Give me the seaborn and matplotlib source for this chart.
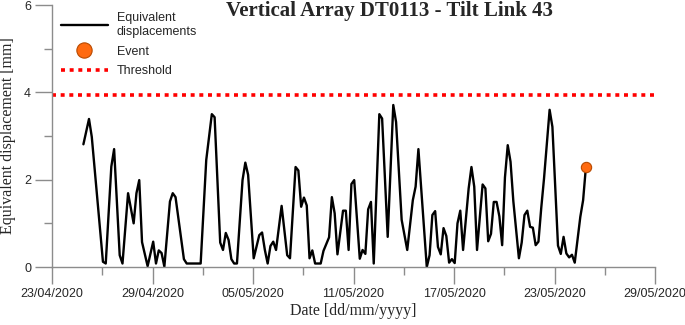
import numpy as np
import pandas as pd
import matplotlib
matplotlib.use("Agg")
import matplotlib.pyplot as plt
import matplotlib.dates as mdates
from matplotlib.lines import Line2D
import seaborn as sns

# hours since 23/04/2020 00:00 and equivalent displacement [mm]
hours = [45, 53, 57, 73, 77, 85, 89, 97, 101, 109, 117, 121, 125, 129, 137, 145,
         149, 153, 157, 161, 169, 173, 177, 189, 193, 213, 221, 229, 233, 241, 245,
         249, 253, 257, 261, 265, 273, 277, 281, 289, 293, 297, 301, 305, 309, 313,
         317, 321, 329, 337, 341, 349, 353, 357, 361, 365, 369, 373, 377, 385, 389,
         397, 401, 405, 409, 417, 421, 425, 429, 433, 441, 445, 449, 453, 457, 461,
         469, 473, 481, 489, 493, 501, 509, 517, 521, 525, 537, 541, 545, 549, 553,
         557, 561, 565, 569, 573, 577, 581, 585, 589, 597, 601, 605, 609, 617, 621,
         625, 629, 633, 637, 641, 645, 649, 653, 657, 661, 669, 673, 677, 681, 685,
         689, 693, 697, 701, 705, 713, 717, 725, 729, 733, 737, 741, 745, 749, 757,
         761, 765]
disp = [2.81, 3.39, 2.98, 0.12, 0.08, 2.30, 2.70, 0.27, 0.08, 1.69, 1.00, 1.69,
        1.99, 0.57, 0.02, 0.58, 0.08, 0.38, 0.32, 0.01, 1.50, 1.69, 1.60, 0.18,
        0.08, 0.08, 2.45, 3.50, 3.43, 0.56, 0.39, 0.78, 0.62, 0.18, 0.08, 0.08,
        1.99, 2.39, 2.11, 0.20, 0.46, 0.73, 0.79, 0.39, 0.08, 0.48, 0.58, 0.39,
        1.40, 0.27, 0.20, 2.29, 2.21, 1.38, 1.59, 1.41, 0.20, 0.38, 0.08, 0.08,
        0.37, 0.68, 1.60, 1.23, 0.29, 1.29, 1.29, 0.39, 1.90, 1.99, 0.19, 0.39,
        0.30, 1.32, 1.49, 0.08, 3.50, 3.40, 0.69, 3.71, 3.32, 1.08, 0.39, 1.53,
        1.84, 2.70, 0.00, 0.27, 1.19, 1.28, 0.46, 0.29, 0.89, 0.71, 0.10, 0.18,
        0.09, 1.00, 1.29, 0.39, 1.80, 2.29, 1.84, 0.39, 1.89, 1.80, 0.59, 0.76,
        1.49, 1.49, 1.16, 0.50, 2.05, 2.79, 2.41, 1.51, 0.20, 0.56, 1.19, 1.29,
        0.92, 0.90, 0.50, 0.58, 1.35, 2.03, 3.60, 3.21, 0.49, 0.30, 0.69, 0.31,
        0.22, 0.28, 0.10, 1.15, 1.53, 2.29]
event_hour = [765]
event_disp = [2.30]
threshold = 3.95

start = pd.Timestamp("2020-04-23")
df = pd.DataFrame({"date": start + pd.to_timedelta(hours, unit="h"), "disp": disp})
ev = pd.DataFrame({"date": start + pd.to_timedelta(event_hour, unit="h"), "disp": event_disp})

sns.set_style("ticks")
plt.rcParams["font.family"] = ["Liberation Sans", "DejaVu Sans"]
serif = ["Liberation Serif", "DejaVu Serif"]

fig = plt.figure(figsize=(6.85, 3.25), dpi=100)
ax = fig.add_axes([52 / 685, 1 - 267 / 325, 603 / 685, 262 / 325])

sns.lineplot(data=df, x="date", y="disp", ax=ax, color="black", linewidth=1.7)
ax.axhline(threshold, color="#ff0000", linewidth=2.6, linestyle=(0, (1.1, 1.3)))
sns.scatterplot(data=ev, x="date", y="disp", ax=ax, s=55, color="#ff6a10",
                edgecolor="#b84a00", linewidth=0.8, zorder=5)

ax.set_xlim(pd.Timestamp("2020-04-23"), pd.Timestamp("2020-05-29"))
ax.set_ylim(0, 6)
ax.set_xticks(pd.date_range("2020-04-23", "2020-05-29", freq="6D"))
ax.set_xticks(pd.date_range("2020-04-26", "2020-05-29", freq="6D"), minor=True)
ax.xaxis.set_major_formatter(mdates.DateFormatter("%d/%m/%Y"))
ax.set_yticks([0, 2, 4, 6])
ax.set_yticks([1, 3, 5], minor=True)

for s in ["top", "right"]:
    ax.spines[s].set_visible(False)
for s in ["left", "bottom"]:
    ax.spines[s].set_color("#8c8c8c")
    ax.spines[s].set_linewidth(1.0)
ax.tick_params(axis="both", which="major", length=12, width=1.0, color="#8c8c8c",
               labelsize=9, pad=3)
ax.tick_params(axis="both", which="minor", length=6, width=1.0, color="#8c8c8c")

ax.set_xlabel("Date [dd/mm/yyyy]", family=serif, fontsize=11.5, labelpad=2)
ax.set_ylabel("Equivalent displacement [mm]", family=serif, fontsize=11.5, labelpad=6)

fig.text(0.569, 0.966, "Vertical Array DT0113 - Tilt Link 43", family=serif,
         fontsize=15, fontweight="bold", ha="center", va="center")

handles = [
    Line2D([], [], color="black", linewidth=1.7),
    Line2D([], [], color="#ff6a10", marker="o", markersize=11, linestyle="none",
           markeredgecolor="#b84a00", markeredgewidth=0.8),
    Line2D([], [], color="#ff0000", linewidth=2.6, linestyle=(0, (1.1, 1.3))),
]
labels = ["Equivalent\ndisplacements", "Event", "Threshold"]
fig.legend(handles, labels, loc="upper left", bbox_to_anchor=(0.072, 0.997),
           frameon=False, fontsize=9, handlelength=3.8, labelspacing=0.6,
           handletextpad=0.7)

plt.savefig("out.png", dpi=100)
